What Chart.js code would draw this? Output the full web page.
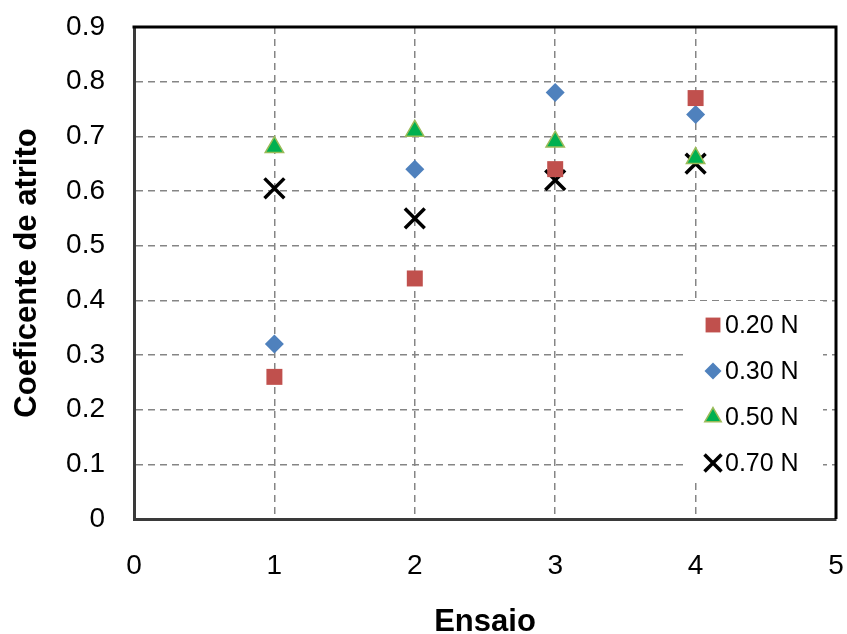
<!DOCTYPE html>
<html lang="pt">
<head>
<meta charset="UTF-8" />
<title>Coeficente de atrito</title>
<script src="https://cdn.jsdelivr.net/npm/chart.js@4/dist/chart.umd.min.js"></script>
<style>
  html, body { margin: 0; padding: 0; background: #fff; }
  canvas { display: block; }
</style>
</head>
<body>
<canvas id="chart" width="847" height="634"></canvas>
<script>
// valores
const ensaios = [1, 2, 3, 4];
const seriesNames = ["0.20 N", "0.30 N", "0.50 N", "0.70 N"];
const atrito020 = [0.26, 0.44, 0.64, 0.77];
const atrito030 = [0.32, 0.64, 0.78, 0.74];
const atrito050 = [0.68, 0.71, 0.69, 0.66];
const atrito070 = [0.605, 0.55, 0.62, 0.65];
const xTickLabels = ["0", "1", "2", "3", "4", "5"];
const yTickLabels = ["0", "0.1", "0.2", "0.3", "0.4", "0.5", "0.6", "0.7", "0.8", "0.9"];

const FONT = "'Liberation Sans', Arial, Helvetica, sans-serif";
Chart.defaults.font.family = FONT;
Chart.defaults.color = "#000";

const styles = [
  { pointStyle: "rect", radius: 11.3, bg: "#C0504D", border: "#C0504D", bw: 0 },
  { pointStyle: "rectRot", radius: 9.5, bg: "#4F81BD", border: "#4F81BD", bw: 0 },
  { pointStyle: "triangle", radius: 10.6, bg: "#00B050", border: "#9BBB59", bw: 1.5 },
  { pointStyle: "crossRot", radius: 14, bg: "#000", border: "#000", bw: 3.5 },
];

const values = [atrito020, atrito030, atrito050, atrito070];

const datasets = values.map((vals, i) => ({
  label: seriesNames[i],
  data: ensaios.map((e, j) => ({ x: e, y: vals[j] })),
  pointStyle: styles[i].pointStyle,
  pointRadius: styles[i].radius,
  backgroundColor: styles[i].bg,
  borderColor: styles[i].border,
  borderWidth: styles[i].bw,
  showLine: false,
}));

// moldura preta (topo/direita) + legenda dentro do gráfico
const frameAndLegend = {
  id: "frameAndLegend",
  afterDatasetsDraw(chart) {
    const { ctx, chartArea: a } = chart;
    ctx.save();
    ctx.strokeStyle = "#000";
    ctx.lineWidth = 3;
    ctx.beginPath();
    ctx.moveTo(a.left - 1.5, a.top);
    ctx.lineTo(a.right, a.top);
    ctx.lineTo(a.right, a.bottom);
    ctx.stroke();

    const boxL = a.right - 148, boxR = a.right - 13;
    const boxT = a.bottom - 218, boxB = a.bottom - 38;
    ctx.fillStyle = "#fff";
    ctx.fillRect(boxL, boxT, boxR - boxL, boxB - boxT);

    const legendRadius = [10.5, 8.5, 9.5, 12];
    ctx.font = "25px " + FONT;
    ctx.textBaseline = "middle";
    ctx.textAlign = "left";
    seriesNames.forEach((name, i) => {
      const y = a.bottom - 194 + i * 46;
      const mx = a.right - 123;
      ctx.fillStyle = styles[i].bg;
      ctx.strokeStyle = styles[i].border;
      ctx.lineWidth = styles[i].bw;
      Chart.helpers.drawPoint(ctx, {
        pointStyle: styles[i].pointStyle,
        radius: legendRadius[i],
        rotation: 0,
        borderWidth: styles[i].bw,
      }, mx, y);
      ctx.fillStyle = "#000";
      ctx.fillText(name, a.right - 111, y + 1);
    });
    ctx.restore();
  },
};

new Chart(document.getElementById("chart"), {
  type: "scatter",
  data: { datasets },
  options: {
    responsive: false,
    animation: false,
    events: [],
    layout: { autoPadding: false, padding: { left: 0, top: 27, right: 11, bottom: 0 } },
    plugins: { legend: { display: false }, tooltip: { enabled: false } },
    scales: {
      x: {
        type: "linear",
        min: 0,
        max: 5,
        afterFit: (s) => { s.height = 115; s.paddingLeft = 0; s.paddingRight = 0; },
        ticks: {
          stepSize: 1,
          padding: 30,
          font: { size: 28 },
          color: "#000",
          callback: (v) => xTickLabels[v],
        },
        grid: {
          drawTicks: false,
          lineWidth: 1.5,
          color: (c) => (c.tick && (c.tick.value === 0 || c.tick.value === 5) ? "rgba(0,0,0,0)" : "#858585"),
        },
        border: { color: "#3a3a3a", width: 3, dash: [7, 5] },
        title: {
          display: true,
          text: "Ensaio",
          color: "#000",
          font: { size: 31, weight: "bold", lineHeight: 1 },
          padding: { top: 0, bottom: -4 },
        },
      },
      y: {
        min: 0,
        max: 0.9,
        afterFit: (s) => { s.width = 134; s.paddingTop = 0; s.paddingBottom = 0; },
        ticks: {
          stepSize: 0.1,
          padding: 29,
          font: { size: 28 },
          color: "#000",
          callback: (v) => yTickLabels[Math.round(v * 10)],
        },
        grid: {
          drawTicks: false,
          lineWidth: 1.5,
          color: (c) => (c.tick && (c.tick.value === 0 || Math.abs(c.tick.value - 0.9) < 1e-6) ? "rgba(0,0,0,0)" : "#858585"),
        },
        border: { color: "#3a3a3a", width: 3, dash: [7, 5] },
        title: {
          display: true,
          text: "Coeficente de atrito",
          color: "#000",
          font: { size: 31, weight: "bold", lineHeight: 1 },
          padding: { top: 12, bottom: 0 },
        },
      },
    },
  },
  plugins: [frameAndLegend],
});
</script>
</body>
</html>
